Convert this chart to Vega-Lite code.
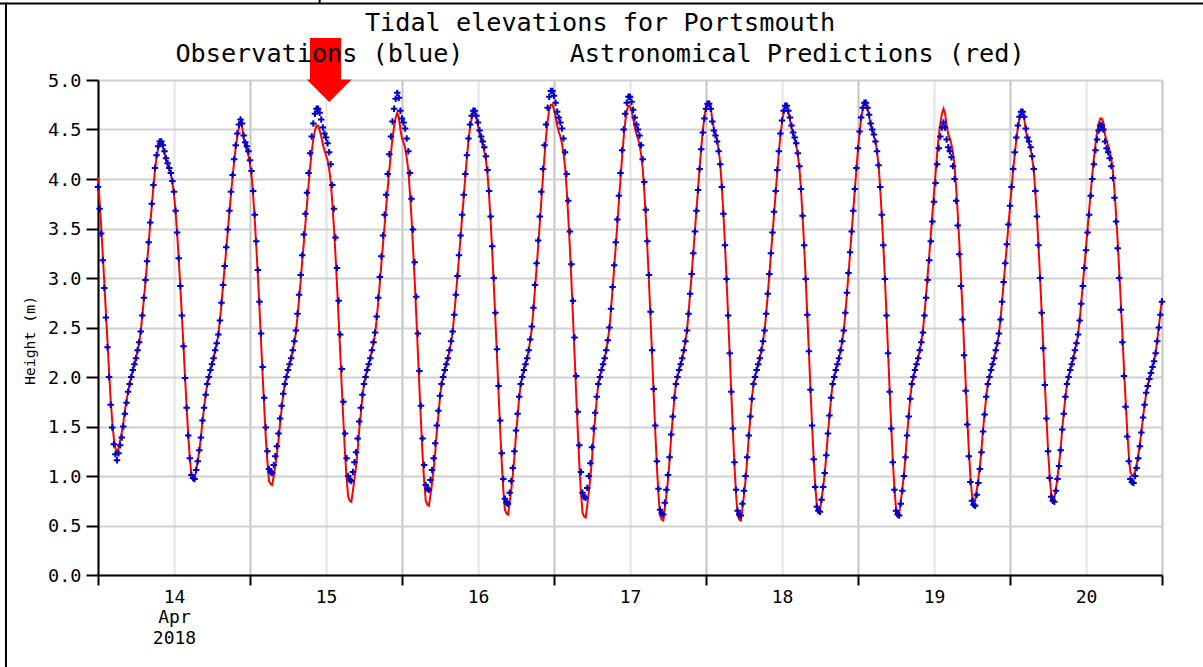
{
"$schema":"https://vega.github.io/schema/vega-lite/v6.json",
"width":1064,"height":495,
"autosize":{"type":"none"},
"padding":{"left":98,"top":80,"right":41,"bottom":92},
"background":"white",
"config":{"view":{"stroke":null},"font":"DejaVu Sans Mono"},
"title":{"text":"Tidal elevations for Portsmouth","subtitle":"Observations (blue)\u00a0\u00a0\u00a0\u00a0\u00a0\u00a0\u00a0Astronomical Predictions (red)","anchor":"middle","frame":"group","dx":-30,"offset":-69,"font":"DejaVu Sans Mono","fontSize":25.2,"fontWeight":"normal","color":"#000000","subtitleFont":"DejaVu Sans Mono","subtitleFontSize":25.2,"subtitleColor":"#000000","subtitlePadding":5},
"data":{"values":[
{"h":0,"o":3.92,"p":4.02},{"h":0.25,"o":3.70,"p":3.78},{"h":0.5,"o":3.45,"p":3.52},{"h":0.75,"o":3.18,"p":3.24},{"h":1,"o":2.90,"p":2.95},{"h":1.25,"o":2.60,"p":2.65},{"h":1.5,"o":2.30,"p":2.35},{"h":1.75,"o":2.00,"p":2.05},{"h":2,"o":1.72,"p":1.77},{"h":2.25,"o":1.49,"p":1.55},{"h":2.5,"o":1.32,"p":1.38},{"h":2.75,"o":1.22,"p":1.28},{"h":3,"o":1.16,"p":1.23},
{"h":3.25,"o":1.23,"p":1.29},{"h":3.5,"o":1.31,"p":1.36},{"h":3.75,"o":1.39,"p":1.44},{"h":4,"o":1.50,"p":1.54},{"h":4.25,"o":1.63,"p":1.66},{"h":4.5,"o":1.74,"p":1.76},{"h":4.75,"o":1.85,"p":1.85},{"h":5,"o":1.93,"p":1.93},{"h":5.25,"o":2.00,"p":2.00},{"h":5.5,"o":2.07,"p":2.07},{"h":5.75,"o":2.13,"p":2.13},{"h":6,"o":2.19,"p":2.19},{"h":6.25,"o":2.27,"p":2.27},{"h":6.5,"o":2.35,"p":2.35},{"h":6.75,"o":2.46,"p":2.46},{"h":7,"o":2.62,"p":2.62},{"h":7.25,"o":2.80,"p":2.79},{"h":7.5,"o":2.98,"p":2.97},{"h":7.75,"o":3.17,"p":3.16},{"h":8,"o":3.36,"p":3.35},{"h":8.25,"o":3.56,"p":3.55},{"h":8.5,"o":3.75,"p":3.73},{"h":8.75,"o":3.94,"p":3.92},{"h":9,"o":4.11,"p":4.09},{"h":9.25,"o":4.24,"p":4.22},{"h":9.5,"o":4.33,"p":4.31},{"h":9.75,"o":4.38,"p":4.36},
{"h":10,"o":4.38,"p":4.36},{"h":10.25,"o":4.34,"p":4.32},{"h":10.5,"o":4.28,"p":4.26},{"h":10.75,"o":4.21,"p":4.19},{"h":11,"o":4.16,"p":4.14},{"h":11.25,"o":4.11,"p":4.10},{"h":11.5,"o":4.06,"p":4.05},{"h":11.75,"o":3.98,"p":3.96},{"h":12,"o":3.87,"p":3.85},{"h":12.25,"o":3.68,"p":3.67},{"h":12.5,"o":3.46,"p":3.45},{"h":12.75,"o":3.20,"p":3.19},{"h":13,"o":2.92,"p":2.91},{"h":13.25,"o":2.62,"p":2.61},{"h":13.5,"o":2.31,"p":2.31},{"h":13.75,"o":1.99,"p":1.99},{"h":14,"o":1.69,"p":1.69},{"h":14.25,"o":1.41,"p":1.41},{"h":14.5,"o":1.18,"p":1.18},{"h":14.75,"o":1.01,"p":1.01},{"h":15,"o":0.98,"p":0.98},{"h":15.25,"o":0.97,"p":0.97},
{"h":15.5,"o":1.06,"p":1.06},{"h":15.75,"o":1.15,"p":1.15},{"h":16,"o":1.26,"p":1.26},{"h":16.25,"o":1.39,"p":1.39},{"h":16.5,"o":1.56,"p":1.56},{"h":16.75,"o":1.69,"p":1.69},{"h":17,"o":1.82,"p":1.82},{"h":17.25,"o":1.93,"p":1.93},{"h":17.5,"o":2.00,"p":2.00},{"h":17.75,"o":2.07,"p":2.07},{"h":18,"o":2.13,"p":2.13},{"h":18.25,"o":2.19,"p":2.19},{"h":18.5,"o":2.27,"p":2.27},{"h":18.75,"o":2.34,"p":2.34},{"h":19,"o":2.43,"p":2.43},{"h":19.25,"o":2.57,"p":2.57},{"h":19.5,"o":2.75,"p":2.74},{"h":19.75,"o":2.93,"p":2.93},{"h":20,"o":3.12,"p":3.11},{"h":20.25,"o":3.31,"p":3.29},{"h":20.5,"o":3.49,"p":3.48},{"h":20.75,"o":3.68,"p":3.66},{"h":21,"o":3.87,"p":3.85},{"h":21.25,"o":4.04,"p":4.02},{"h":21.5,"o":4.20,"p":4.18},{"h":21.75,"o":4.34,"p":4.32},{"h":22,"o":4.46,"p":4.43},{"h":22.25,"o":4.55,"p":4.52},{"h":22.5,"o":4.60,"p":4.57},
{"h":22.75,"o":4.56,"p":4.53},{"h":23,"o":4.44,"p":4.41},{"h":23.25,"o":4.37,"p":4.33},{"h":23.5,"o":4.33,"p":4.29},{"h":23.75,"o":4.28,"p":4.24},{"h":24,"o":4.19,"p":4.15},{"h":24.25,"o":4.08,"p":4.03},{"h":24.5,"o":3.88,"p":3.83},{"h":24.75,"o":3.64,"p":3.59},{"h":25,"o":3.37,"p":3.31},{"h":25.25,"o":3.08,"p":3.01},{"h":25.5,"o":2.76,"p":2.69},{"h":25.75,"o":2.44,"p":2.35},{"h":26,"o":2.10,"p":2.01},{"h":26.25,"o":1.79,"p":1.69},{"h":26.5,"o":1.49,"p":1.38},{"h":26.75,"o":1.25,"p":1.14},{"h":27,"o":1.07,"p":0.95},{"h":27.25,"o":1.04,"p":0.92},{"h":27.5,"o":1.03,"p":0.91},
{"h":27.75,"o":1.11,"p":1.00},{"h":28,"o":1.20,"p":1.10},{"h":28.25,"o":1.30,"p":1.22},{"h":28.5,"o":1.43,"p":1.36},{"h":28.75,"o":1.58,"p":1.53},{"h":29,"o":1.71,"p":1.68},{"h":29.25,"o":1.83,"p":1.82},{"h":29.5,"o":1.93,"p":1.93},{"h":29.75,"o":2.00,"p":2.00},{"h":30,"o":2.07,"p":2.07},{"h":30.25,"o":2.13,"p":2.13},{"h":30.5,"o":2.19,"p":2.19},{"h":30.75,"o":2.27,"p":2.27},{"h":31,"o":2.36,"p":2.35},{"h":31.25,"o":2.47,"p":2.45},{"h":31.5,"o":2.64,"p":2.61},{"h":31.75,"o":2.83,"p":2.79},{"h":32,"o":3.03,"p":2.97},{"h":32.25,"o":3.23,"p":3.17},{"h":32.5,"o":3.44,"p":3.36},{"h":32.75,"o":3.65,"p":3.55},{"h":33,"o":3.86,"p":3.75},{"h":33.25,"o":4.06,"p":3.94},{"h":33.5,"o":4.26,"p":4.12},{"h":33.75,"o":4.43,"p":4.28},{"h":34,"o":4.56,"p":4.40},{"h":34.25,"o":4.66,"p":4.49},{"h":34.5,"o":4.71,"p":4.54},
{"h":34.75,"o":4.71,"p":4.54},{"h":35,"o":4.67,"p":4.49},{"h":35.25,"o":4.60,"p":4.43},{"h":35.5,"o":4.52,"p":4.35},{"h":35.75,"o":4.46,"p":4.29},{"h":36,"o":4.42,"p":4.24},{"h":36.25,"o":4.36,"p":4.19},{"h":36.5,"o":4.27,"p":4.10},{"h":36.75,"o":4.15,"p":3.97},{"h":37,"o":3.94,"p":3.76},{"h":37.25,"o":3.70,"p":3.51},{"h":37.5,"o":3.41,"p":3.23},{"h":37.75,"o":3.10,"p":2.92},{"h":38,"o":2.77,"p":2.58},{"h":38.25,"o":2.43,"p":2.24},{"h":38.5,"o":2.08,"p":1.88},{"h":38.75,"o":1.75,"p":1.55},{"h":39,"o":1.43,"p":1.23},{"h":39.25,"o":1.18,"p":0.98},{"h":39.5,"o":1.00,"p":0.79},{"h":39.75,"o":0.96,"p":0.75},{"h":40,"o":0.95,"p":0.74},
{"h":40.25,"o":1.04,"p":0.85},{"h":40.5,"o":1.14,"p":0.97},{"h":40.75,"o":1.24,"p":1.10},{"h":41,"o":1.38,"p":1.26},{"h":41.25,"o":1.55,"p":1.47},{"h":41.5,"o":1.69,"p":1.63},{"h":41.75,"o":1.82,"p":1.80},{"h":42,"o":1.93,"p":1.93},{"h":42.25,"o":2.00,"p":2.00},{"h":42.5,"o":2.07,"p":2.07},{"h":42.75,"o":2.13,"p":2.13},{"h":43,"o":2.19,"p":2.19},{"h":43.25,"o":2.27,"p":2.27},{"h":43.5,"o":2.35,"p":2.34},{"h":43.75,"o":2.45,"p":2.44},{"h":44,"o":2.61,"p":2.58},{"h":44.25,"o":2.80,"p":2.76},{"h":44.5,"o":3.01,"p":2.95},{"h":44.75,"o":3.22,"p":3.15},{"h":45,"o":3.43,"p":3.34},{"h":45.25,"o":3.64,"p":3.53},{"h":45.5,"o":3.84,"p":3.72},{"h":45.75,"o":4.05,"p":3.91},{"h":46,"o":4.25,"p":4.09},{"h":46.25,"o":4.43,"p":4.26},{"h":46.5,"o":4.58,"p":4.41},{"h":46.75,"o":4.71,"p":4.53},{"h":47,"o":4.81,"p":4.62},{"h":47.25,"o":4.87,"p":4.67},
{"h":47.5,"o":4.82,"p":4.62},{"h":47.75,"o":4.69,"p":4.50},{"h":48,"o":4.61,"p":4.41},{"h":48.25,"o":4.57,"p":4.37},{"h":48.5,"o":4.51,"p":4.31},{"h":48.75,"o":4.41,"p":4.21},{"h":49,"o":4.28,"p":4.09},{"h":49.25,"o":4.06,"p":3.86},{"h":49.5,"o":3.80,"p":3.61},{"h":49.75,"o":3.49,"p":3.30},{"h":50,"o":3.16,"p":2.98},{"h":50.25,"o":2.81,"p":2.63},{"h":50.5,"o":2.44,"p":2.26},{"h":50.75,"o":2.06,"p":1.89},{"h":51,"o":1.71,"p":1.54},{"h":51.25,"o":1.38,"p":1.21},{"h":51.5,"o":1.11,"p":0.95},{"h":51.75,"o":0.91,"p":0.75},{"h":52,"o":0.87,"p":0.71},{"h":52.25,"o":0.86,"p":0.70},
{"h":52.5,"o":0.96,"p":0.81},{"h":52.75,"o":1.06,"p":0.93},{"h":53,"o":1.18,"p":1.07},{"h":53.25,"o":1.33,"p":1.24},{"h":53.5,"o":1.51,"p":1.45},{"h":53.75,"o":1.66,"p":1.62},{"h":54,"o":1.81,"p":1.80},{"h":54.25,"o":1.93,"p":1.93},{"h":54.5,"o":2.00,"p":2.00},{"h":54.75,"o":2.07,"p":2.07},{"h":55,"o":2.13,"p":2.13},{"h":55.25,"o":2.19,"p":2.19},{"h":55.5,"o":2.27,"p":2.27},{"h":55.75,"o":2.36,"p":2.35},{"h":56,"o":2.46,"p":2.46},{"h":56.25,"o":2.63,"p":2.63},{"h":56.5,"o":2.83,"p":2.82},{"h":56.75,"o":3.02,"p":3.01},{"h":57,"o":3.23,"p":3.21},{"h":57.25,"o":3.43,"p":3.42},{"h":57.5,"o":3.64,"p":3.62},{"h":57.75,"o":3.84,"p":3.82},{"h":58,"o":4.05,"p":4.03},{"h":58.25,"o":4.24,"p":4.22},{"h":58.5,"o":4.41,"p":4.39},{"h":58.75,"o":4.55,"p":4.52},{"h":59,"o":4.64,"p":4.61},{"h":59.25,"o":4.69,"p":4.66},
{"h":59.5,"o":4.69,"p":4.66},{"h":59.75,"o":4.64,"p":4.61},{"h":60,"o":4.57,"p":4.54},{"h":60.25,"o":4.49,"p":4.46},{"h":60.5,"o":4.43,"p":4.39},{"h":60.75,"o":4.38,"p":4.34},{"h":61,"o":4.32,"p":4.28},{"h":61.25,"o":4.23,"p":4.19},{"h":61.5,"o":4.09,"p":4.05},{"h":61.75,"o":3.88,"p":3.83},{"h":62,"o":3.62,"p":3.57},{"h":62.25,"o":3.32,"p":3.26},{"h":62.5,"o":3.00,"p":2.93},{"h":62.75,"o":2.65,"p":2.57},{"h":63,"o":2.28,"p":2.21},{"h":63.25,"o":1.91,"p":1.83},{"h":63.5,"o":1.56,"p":1.47},{"h":63.75,"o":1.23,"p":1.13},{"h":64,"o":0.97,"p":0.86},{"h":64.25,"o":0.77,"p":0.66},{"h":64.5,"o":0.73,"p":0.62},{"h":64.75,"o":0.72,"p":0.61},
{"h":65,"o":0.83,"p":0.73},{"h":65.25,"o":0.95,"p":0.86},{"h":65.5,"o":1.08,"p":1.01},{"h":65.75,"o":1.25,"p":1.19},{"h":66,"o":1.46,"p":1.42},{"h":66.25,"o":1.63,"p":1.60},{"h":66.5,"o":1.80,"p":1.79},{"h":66.75,"o":1.93,"p":1.93},{"h":67,"o":2.00,"p":2.00},{"h":67.25,"o":2.07,"p":2.07},{"h":67.5,"o":2.13,"p":2.13},{"h":67.75,"o":2.19,"p":2.19},{"h":68,"o":2.27,"p":2.27},{"h":68.25,"o":2.38,"p":2.37},{"h":68.5,"o":2.51,"p":2.49},{"h":68.75,"o":2.70,"p":2.68},{"h":69,"o":2.93,"p":2.89},{"h":69.25,"o":3.15,"p":3.10},{"h":69.5,"o":3.38,"p":3.32},{"h":69.75,"o":3.62,"p":3.55},{"h":70,"o":3.87,"p":3.78},{"h":70.25,"o":4.10,"p":4.01},{"h":70.5,"o":4.34,"p":4.23},{"h":70.75,"o":4.55,"p":4.43},{"h":71,"o":4.72,"p":4.59},{"h":71.25,"o":4.83,"p":4.70},{"h":71.5,"o":4.89,"p":4.75},
{"h":71.75,"o":4.89,"p":4.75},{"h":72,"o":4.84,"p":4.70},{"h":72.25,"o":4.77,"p":4.63},{"h":72.5,"o":4.68,"p":4.54},{"h":72.75,"o":4.62,"p":4.48},{"h":73,"o":4.57,"p":4.43},{"h":73.25,"o":4.51,"p":4.36},{"h":73.5,"o":4.41,"p":4.26},{"h":73.75,"o":4.27,"p":4.12},{"h":74,"o":4.05,"p":3.90},{"h":74.25,"o":3.78,"p":3.62},{"h":74.5,"o":3.47,"p":3.31},{"h":74.75,"o":3.14,"p":2.97},{"h":75,"o":2.77,"p":2.60},{"h":75.25,"o":2.40,"p":2.22},{"h":75.5,"o":2.01,"p":1.83},{"h":75.75,"o":1.65,"p":1.46},{"h":76,"o":1.31,"p":1.12},{"h":76.25,"o":1.04,"p":0.84},{"h":76.5,"o":0.83,"p":0.63},{"h":76.75,"o":0.79,"p":0.59},{"h":77,"o":0.78,"p":0.58},
{"h":77.25,"o":0.88,"p":0.70},{"h":77.5,"o":1.00,"p":0.84},{"h":77.75,"o":1.13,"p":0.99},{"h":78,"o":1.29,"p":1.17},{"h":78.25,"o":1.48,"p":1.40},{"h":78.5,"o":1.64,"p":1.59},{"h":78.75,"o":1.80,"p":1.78},{"h":79,"o":1.93,"p":1.93},{"h":79.25,"o":2.00,"p":2.00},{"h":79.5,"o":2.07,"p":2.07},{"h":79.75,"o":2.13,"p":2.13},{"h":80,"o":2.19,"p":2.19},{"h":80.25,"o":2.27,"p":2.27},{"h":80.5,"o":2.37,"p":2.37},{"h":80.75,"o":2.50,"p":2.49},{"h":81,"o":2.69,"p":2.68},{"h":81.25,"o":2.91,"p":2.89},{"h":81.5,"o":3.13,"p":3.10},{"h":81.75,"o":3.36,"p":3.32},{"h":82,"o":3.59,"p":3.54},{"h":82.25,"o":3.83,"p":3.78},{"h":82.5,"o":4.06,"p":4.00},{"h":82.75,"o":4.29,"p":4.22},{"h":83,"o":4.50,"p":4.42},{"h":83.25,"o":4.66,"p":4.58},{"h":83.5,"o":4.77,"p":4.69},{"h":83.75,"o":4.83,"p":4.74},
{"h":84,"o":4.83,"p":4.74},{"h":84.25,"o":4.78,"p":4.69},{"h":84.5,"o":4.70,"p":4.61},{"h":84.75,"o":4.62,"p":4.53},{"h":85,"o":4.55,"p":4.46},{"h":85.25,"o":4.50,"p":4.41},{"h":85.5,"o":4.44,"p":4.35},{"h":85.75,"o":4.34,"p":4.25},{"h":86,"o":4.20,"p":4.11},{"h":86.25,"o":3.97,"p":3.88},{"h":86.5,"o":3.69,"p":3.61},{"h":86.75,"o":3.37,"p":3.29},{"h":87,"o":3.03,"p":2.95},{"h":87.25,"o":2.66,"p":2.58},{"h":87.5,"o":2.27,"p":2.20},{"h":87.75,"o":1.88,"p":1.81},{"h":88,"o":1.51,"p":1.44},{"h":88.25,"o":1.15,"p":1.09},{"h":88.5,"o":0.87,"p":0.81},{"h":88.75,"o":0.66,"p":0.60},{"h":89,"o":0.62,"p":0.56},{"h":89.25,"o":0.61,"p":0.55},
{"h":89.5,"o":0.73,"p":0.67},{"h":89.75,"o":0.86,"p":0.81},{"h":90,"o":1.01,"p":0.96},{"h":90.25,"o":1.19,"p":1.16},{"h":90.5,"o":1.42,"p":1.39},{"h":90.75,"o":1.60,"p":1.59},{"h":91,"o":1.79,"p":1.78},{"h":91.25,"o":1.93,"p":1.93},{"h":91.5,"o":2.00,"p":2.00},{"h":91.75,"o":2.07,"p":2.07},{"h":92,"o":2.13,"p":2.13},{"h":92.25,"o":2.19,"p":2.19},{"h":92.5,"o":2.27,"p":2.27},{"h":92.75,"o":2.36,"p":2.36},{"h":93,"o":2.47,"p":2.47},{"h":93.25,"o":2.64,"p":2.65},{"h":93.5,"o":2.84,"p":2.85},{"h":93.75,"o":3.04,"p":3.05},{"h":94,"o":3.25,"p":3.26},{"h":94.25,"o":3.47,"p":3.48},{"h":94.5,"o":3.68,"p":3.69},{"h":94.75,"o":3.89,"p":3.90},{"h":95,"o":4.10,"p":4.12},{"h":95.25,"o":4.30,"p":4.32},{"h":95.5,"o":4.47,"p":4.49},{"h":95.75,"o":4.61,"p":4.63},{"h":96,"o":4.71,"p":4.73},{"h":96.25,"o":4.76,"p":4.78},
{"h":96.5,"o":4.76,"p":4.78},{"h":96.75,"o":4.71,"p":4.73},{"h":97,"o":4.58,"p":4.59},{"h":97.25,"o":4.49,"p":4.51},{"h":97.5,"o":4.44,"p":4.46},{"h":97.75,"o":4.38,"p":4.40},{"h":98,"o":4.28,"p":4.29},{"h":98.25,"o":4.15,"p":4.16},{"h":98.5,"o":3.92,"p":3.92},{"h":98.75,"o":3.65,"p":3.65},{"h":99,"o":3.33,"p":3.33},{"h":99.25,"o":2.99,"p":2.98},{"h":99.5,"o":2.62,"p":2.60},{"h":99.75,"o":2.24,"p":2.22},{"h":100,"o":1.85,"p":1.82},{"h":100.25,"o":1.48,"p":1.45},{"h":100.5,"o":1.14,"p":1.10},{"h":100.75,"o":0.86,"p":0.81},{"h":101,"o":0.65,"p":0.60},{"h":101.25,"o":0.61,"p":0.56},{"h":101.5,"o":0.60,"p":0.55},
{"h":101.75,"o":0.72,"p":0.67},{"h":102,"o":0.85,"p":0.81},{"h":102.25,"o":1.00,"p":0.96},{"h":102.5,"o":1.19,"p":1.16},{"h":102.75,"o":1.41,"p":1.39},{"h":103,"o":1.60,"p":1.59},{"h":103.25,"o":1.78,"p":1.78},{"h":103.5,"o":1.93,"p":1.93},{"h":103.75,"o":2.00,"p":2.00},{"h":104,"o":2.07,"p":2.07},{"h":104.25,"o":2.13,"p":2.13},{"h":104.5,"o":2.19,"p":2.19},{"h":104.75,"o":2.27,"p":2.27},{"h":105,"o":2.36,"p":2.36},{"h":105.25,"o":2.47,"p":2.47},{"h":105.5,"o":2.64,"p":2.64},{"h":105.75,"o":2.84,"p":2.83},{"h":106,"o":3.04,"p":3.03},{"h":106.25,"o":3.25,"p":3.24},{"h":106.5,"o":3.46,"p":3.45},{"h":106.75,"o":3.67,"p":3.65},{"h":107,"o":3.88,"p":3.86},{"h":107.25,"o":4.09,"p":4.07},{"h":107.5,"o":4.28,"p":4.27},{"h":107.75,"o":4.46,"p":4.44},{"h":108,"o":4.59,"p":4.57},{"h":108.25,"o":4.69,"p":4.67},{"h":108.5,"o":4.74,"p":4.72},
{"h":108.75,"o":4.74,"p":4.72},{"h":109,"o":4.69,"p":4.67},{"h":109.25,"o":4.62,"p":4.60},{"h":109.5,"o":4.54,"p":4.52},{"h":109.75,"o":4.47,"p":4.45},{"h":110,"o":4.42,"p":4.40},{"h":110.25,"o":4.36,"p":4.34},{"h":110.5,"o":4.26,"p":4.24},{"h":110.75,"o":4.13,"p":4.11},{"h":111,"o":3.90,"p":3.89},{"h":111.25,"o":3.63,"p":3.62},{"h":111.5,"o":3.33,"p":3.32},{"h":111.75,"o":2.99,"p":2.98},{"h":112,"o":2.63,"p":2.62},{"h":112.25,"o":2.26,"p":2.25},{"h":112.5,"o":1.87,"p":1.87},{"h":112.75,"o":1.51,"p":1.51},{"h":113,"o":1.17,"p":1.18},{"h":113.25,"o":0.89,"p":0.90},{"h":113.5,"o":0.69,"p":0.70},{"h":113.75,"o":0.65,"p":0.66},{"h":114,"o":0.64,"p":0.65},
{"h":114.25,"o":0.76,"p":0.77},{"h":114.5,"o":0.89,"p":0.89},{"h":114.75,"o":1.03,"p":1.03},{"h":115,"o":1.21,"p":1.21},{"h":115.25,"o":1.43,"p":1.43},{"h":115.5,"o":1.61,"p":1.61},{"h":115.75,"o":1.79,"p":1.79},{"h":116,"o":1.93,"p":1.93},{"h":116.25,"o":2.00,"p":2.00},{"h":116.5,"o":2.07,"p":2.07},{"h":116.75,"o":2.13,"p":2.13},{"h":117,"o":2.19,"p":2.19},{"h":117.25,"o":2.27,"p":2.27},{"h":117.5,"o":2.36,"p":2.36},{"h":117.75,"o":2.47,"p":2.47},{"h":118,"o":2.65,"p":2.64},{"h":118.25,"o":2.85,"p":2.84},{"h":118.5,"o":3.05,"p":3.04},{"h":118.75,"o":3.26,"p":3.25},{"h":119,"o":3.47,"p":3.47},{"h":119.25,"o":3.68,"p":3.68},{"h":119.5,"o":3.90,"p":3.89},{"h":119.75,"o":4.11,"p":4.10},{"h":120,"o":4.31,"p":4.30},{"h":120.25,"o":4.48,"p":4.47},{"h":120.5,"o":4.62,"p":4.61},{"h":120.75,"o":4.72,"p":4.71},{"h":121,"o":4.77,"p":4.76},
{"h":121.25,"o":4.77,"p":4.76},{"h":121.5,"o":4.72,"p":4.71},{"h":121.75,"o":4.65,"p":4.64},{"h":122,"o":4.56,"p":4.55},{"h":122.25,"o":4.50,"p":4.49},{"h":122.5,"o":4.45,"p":4.44},{"h":122.75,"o":4.38,"p":4.38},{"h":123,"o":4.28,"p":4.28},{"h":123.25,"o":4.14,"p":4.14},{"h":123.5,"o":3.92,"p":3.91},{"h":123.75,"o":3.64,"p":3.64},{"h":124,"o":3.33,"p":3.33},{"h":124.25,"o":2.99,"p":2.99},{"h":124.5,"o":2.62,"p":2.63},{"h":124.75,"o":2.24,"p":2.25},{"h":125,"o":1.85,"p":1.86},{"h":125.25,"o":1.48,"p":1.50},{"h":125.5,"o":1.14,"p":1.15},{"h":125.75,"o":0.86,"p":0.88},{"h":126,"o":0.65,"p":0.67},{"h":126.25,"o":0.61,"p":0.63},{"h":126.5,"o":0.60,"p":0.62},
{"h":126.75,"o":0.72,"p":0.74},{"h":127,"o":0.85,"p":0.87},{"h":127.25,"o":1.00,"p":1.01},{"h":127.5,"o":1.19,"p":1.20},{"h":127.75,"o":1.41,"p":1.42},{"h":128,"o":1.60,"p":1.60},{"h":128.25,"o":1.78,"p":1.79},{"h":128.5,"o":1.93,"p":1.93},{"h":128.75,"o":2.00,"p":2.00},{"h":129,"o":2.07,"p":2.07},{"h":129.25,"o":2.13,"p":2.13},{"h":129.5,"o":2.19,"p":2.19},{"h":129.75,"o":2.27,"p":2.27},{"h":130,"o":2.35,"p":2.36},{"h":130.25,"o":2.45,"p":2.47},{"h":130.5,"o":2.62,"p":2.64},{"h":130.75,"o":2.80,"p":2.83},{"h":131,"o":2.98,"p":3.03},{"h":131.25,"o":3.18,"p":3.23},{"h":131.5,"o":3.37,"p":3.44},{"h":131.75,"o":3.57,"p":3.65},{"h":132,"o":3.77,"p":3.86},{"h":132.25,"o":3.96,"p":4.06},{"h":132.5,"o":4.15,"p":4.26},{"h":132.75,"o":4.31,"p":4.43},{"h":133,"o":4.43,"p":4.56},{"h":133.25,"o":4.52,"p":4.66},{"h":133.5,"o":4.57,"p":4.71},
{"h":133.75,"o":4.52,"p":4.66},{"h":134,"o":4.40,"p":4.54},{"h":134.25,"o":4.32,"p":4.45},{"h":134.5,"o":4.28,"p":4.41},{"h":134.75,"o":4.22,"p":4.35},{"h":135,"o":4.13,"p":4.26},{"h":135.25,"o":4.00,"p":4.13},{"h":135.5,"o":3.78,"p":3.91},{"h":135.75,"o":3.53,"p":3.65},{"h":136,"o":3.24,"p":3.35},{"h":136.25,"o":2.92,"p":3.02},{"h":136.5,"o":2.58,"p":2.67},{"h":136.75,"o":2.22,"p":2.31},{"h":137,"o":1.86,"p":1.94},{"h":137.25,"o":1.52,"p":1.59},{"h":137.5,"o":1.20,"p":1.26},{"h":137.75,"o":0.94,"p":1.00},{"h":138,"o":0.75,"p":0.80},{"h":138.25,"o":0.71,"p":0.76},{"h":138.5,"o":0.70,"p":0.75},
{"h":138.75,"o":0.81,"p":0.86},{"h":139,"o":0.93,"p":0.97},{"h":139.25,"o":1.07,"p":1.10},{"h":139.5,"o":1.24,"p":1.27},{"h":139.75,"o":1.45,"p":1.47},{"h":140,"o":1.62,"p":1.64},{"h":140.25,"o":1.80,"p":1.80},{"h":140.5,"o":1.93,"p":1.93},{"h":140.75,"o":2.00,"p":2.00},{"h":141,"o":2.07,"p":2.07},{"h":141.25,"o":2.13,"p":2.13},{"h":141.5,"o":2.19,"p":2.19},{"h":141.75,"o":2.27,"p":2.27},{"h":142,"o":2.34,"p":2.34},{"h":142.25,"o":2.44,"p":2.44},{"h":142.5,"o":2.58,"p":2.58},{"h":142.75,"o":2.76,"p":2.76},{"h":143,"o":2.96,"p":2.95},{"h":143.25,"o":3.15,"p":3.14},{"h":143.5,"o":3.34,"p":3.33},{"h":143.75,"o":3.54,"p":3.53},{"h":144,"o":3.73,"p":3.72},{"h":144.25,"o":3.92,"p":3.91},{"h":144.5,"o":4.10,"p":4.09},{"h":144.75,"o":4.27,"p":4.25},{"h":145,"o":4.42,"p":4.40},{"h":145.25,"o":4.54,"p":4.52},{"h":145.5,"o":4.63,"p":4.61},{"h":145.75,"o":4.68,"p":4.66},
{"h":146,"o":4.68,"p":4.66},{"h":146.25,"o":4.63,"p":4.61},{"h":146.5,"o":4.51,"p":4.49},{"h":146.75,"o":4.42,"p":4.41},{"h":147,"o":4.38,"p":4.36},{"h":147.25,"o":4.32,"p":4.31},{"h":147.5,"o":4.23,"p":4.21},{"h":147.75,"o":4.10,"p":4.09},{"h":148,"o":3.88,"p":3.87},{"h":148.25,"o":3.62,"p":3.62},{"h":148.5,"o":3.33,"p":3.32},{"h":148.75,"o":3.00,"p":3.00},{"h":149,"o":2.65,"p":2.66},{"h":149.25,"o":2.29,"p":2.30},{"h":149.5,"o":1.92,"p":1.94},{"h":149.75,"o":1.58,"p":1.60},{"h":150,"o":1.25,"p":1.27},{"h":150.25,"o":0.98,"p":1.01},{"h":150.5,"o":0.79,"p":0.82},{"h":150.75,"o":0.75,"p":0.78},{"h":151,"o":0.74,"p":0.77},
{"h":151.25,"o":0.85,"p":0.87},{"h":151.5,"o":0.97,"p":0.99},{"h":151.75,"o":1.10,"p":1.12},{"h":152,"o":1.26,"p":1.28},{"h":152.25,"o":1.47,"p":1.48},{"h":152.5,"o":1.63,"p":1.64},{"h":152.75,"o":1.80,"p":1.80},{"h":153,"o":1.93,"p":1.93},{"h":153.25,"o":2.00,"p":2.00},{"h":153.5,"o":2.07,"p":2.07},{"h":153.75,"o":2.13,"p":2.13},{"h":154,"o":2.19,"p":2.19},{"h":154.25,"o":2.27,"p":2.27},{"h":154.5,"o":2.34,"p":2.34},{"h":154.75,"o":2.43,"p":2.43},{"h":155,"o":2.57,"p":2.57},{"h":155.25,"o":2.74,"p":2.75},{"h":155.5,"o":2.92,"p":2.94},{"h":155.75,"o":3.10,"p":3.12},{"h":156,"o":3.28,"p":3.31},{"h":156.25,"o":3.46,"p":3.50},{"h":156.5,"o":3.64,"p":3.69},{"h":156.75,"o":3.83,"p":3.87},{"h":157,"o":4.00,"p":4.05},{"h":157.25,"o":4.15,"p":4.21},{"h":157.5,"o":4.29,"p":4.35},{"h":157.75,"o":4.40,"p":4.47},{"h":158,"o":4.49,"p":4.56},{"h":158.25,"o":4.54,"p":4.61},
{"h":158.5,"o":4.54,"p":4.61},{"h":158.75,"o":4.50,"p":4.57},{"h":159,"o":4.38,"p":4.45},{"h":159.25,"o":4.31,"p":4.38},{"h":159.5,"o":4.27,"p":4.34},{"h":159.75,"o":4.21,"p":4.28},{"h":160,"o":4.13,"p":4.20},{"h":160.25,"o":4.01,"p":4.08},{"h":160.5,"o":3.81,"p":3.88},{"h":160.75,"o":3.57,"p":3.64},{"h":161,"o":3.30,"p":3.37},{"h":161.25,"o":3.00,"p":3.07},{"h":161.5,"o":2.68,"p":2.75},{"h":161.75,"o":2.35,"p":2.42},{"h":162,"o":2.01,"p":2.08},{"h":162.25,"o":1.70,"p":1.77},{"h":162.5,"o":1.40,"p":1.47},{"h":162.75,"o":1.15,"p":1.22},{"h":163,"o":0.97,"p":1.04},{"h":163.25,"o":0.94,"p":1.01},{"h":163.5,"o":0.93,"p":1.00},
{"h":163.75,"o":1.00,"p":1.05},{"h":164,"o":1.08,"p":1.12},{"h":164.25,"o":1.18,"p":1.21},{"h":164.5,"o":1.30,"p":1.32},{"h":164.75,"o":1.44,"p":1.45},{"h":165,"o":1.59,"p":1.59},{"h":165.25,"o":1.72,"p":1.72},{"h":165.5,"o":1.84,"p":1.83},{"h":165.75,"o":1.91,"p":1.91},{"h":166,"o":1.98,"p":1.98},{"h":166.25,"o":2.04,"p":2.04},{"h":166.5,"o":2.10,"p":2.10},{"h":166.75,"o":2.16,"p":2.17},{"h":167,"o":2.24,"p":2.25},{"h":167.25,"o":2.36,"p":2.37},{"h":167.5,"o":2.50,"p":2.51},{"h":167.75,"o":2.63,"p":2.65},{"h":168,"o":2.76,"p":2.80}
]},
"layer":[
{"mark":{"type":"line","color":"#ff0000","strokeWidth":2,"interpolate":"linear"},
 "encoding":{
  "x":{"field":"h","type":"quantitative","scale":{"domain":[0,168],"nice":false,"zero":false},
   "axis":{"title":null,"values":[0,3,6,9,12,15,18,21,24,27,30,33,36,39,42,45,48,51,54,57,60,63,66,69,72,75,78,81,84,87,90,93,96,99,102,105,108,111,114,117,120,123,126,129,132,135,138,141,144,147,150,153,156,159,162,165,168],
    "labelExpr":"datum.value % 24 === 12 ? (datum.value === 12 ? ['14','Apr','2018'] : '' + (14 + floor(datum.value / 24))) : ''",
    "grid":true,"gridColor":{"condition":{"test":"datum.value % 24 === 0","value":"#c4c4c4"},"value":"#e2e2e2"},"gridWidth":2,
    "tickColor":{"condition":{"test":"datum.value % 24 === 0","value":"#000000"},"value":"transparent"},"tickSize":10,"tickWidth":2,
    "domainColor":"#000000","domainWidth":2,
    "labelFont":"DejaVu Sans Mono","labelFontSize":18,"labelColor":"#000000","labelPadding":3,"labelLineHeight":20.5,"labelOverlap":false,"labelFlush":false,"labelBaseline":"top"}},
  "y":{"field":"p","type":"quantitative","scale":{"domain":[0,5],"nice":false,"zero":true},
   "axis":{"title":"Height (m)","values":[0,0.5,1,1.5,2,2.5,3,3.5,4,4.5,5],"format":".1f",
    "grid":true,"gridColor":"#d0d0d0","gridWidth":2,
    "tickColor":"#000000","tickSize":12,"tickWidth":2,"domainColor":"#000000","domainWidth":2,
    "labelFont":"DejaVu Sans Mono","labelFontSize":18.5,"labelColor":"#000000","labelPadding":5,
    "titleFont":"DejaVu Sans Mono","titleFontSize":14.8,"titleFontWeight":"normal","titleColor":"#000000",
    "titleX":-68,"titleY":260,"titleAngle":270,"titleAlign":"center","titleBaseline":"middle"}}}},
{"mark":{"type":"point","shape":"M-1,0H1M0,-1V1","filled":false,"stroke":"#0000cc","strokeWidth":2,"size":42,"opacity":1},
 "encoding":{
  "x":{"field":"h","type":"quantitative"},
  "y":{"field":"o","type":"quantitative"}}},
{"data":{"values":[{"note":"15 April"}]},
 "mark":{"type":"point","shape":"M-0.6,-1L0.37,-1L0.37,0.29L0.7,0.29L0,1L-0.7,0.29L-0.6,0.29Z","filled":true,"color":"#ff0000","size":4096,"opacity":1,"strokeWidth":0},
 "encoding":{
  "x":{"datum":36.5,"type":"quantitative"},
  "y":{"datum":5.1,"type":"quantitative"}}},
{"data":{"values":[{"edge":"left"}]},
 "mark":{"type":"rule","color":"#000000","strokeWidth":2},
 "encoding":{
  "x":{"datum":-14.53,"type":"quantitative"},
  "y":{"datum":5.78,"type":"quantitative"},
  "y2":{"datum":-0.95}}},
{"data":{"values":[{"edge":"top"}]},
 "mark":{"type":"rule","color":"#000000","strokeWidth":2},
 "encoding":{
  "y":{"datum":5.772,"type":"quantitative"},
  "x":{"datum":-15.6,"type":"quantitative"},
  "x2":{"datum":174.6}}},
{"data":{"values":[{"edge":"cell"}]},
 "mark":{"type":"rule","color":"#000000","strokeWidth":2},
 "encoding":{
  "x":{"datum":35.0,"type":"quantitative"},
  "y":{"datum":5.82,"type":"quantitative"},
  "y2":{"datum":5.772}}}
]
}
